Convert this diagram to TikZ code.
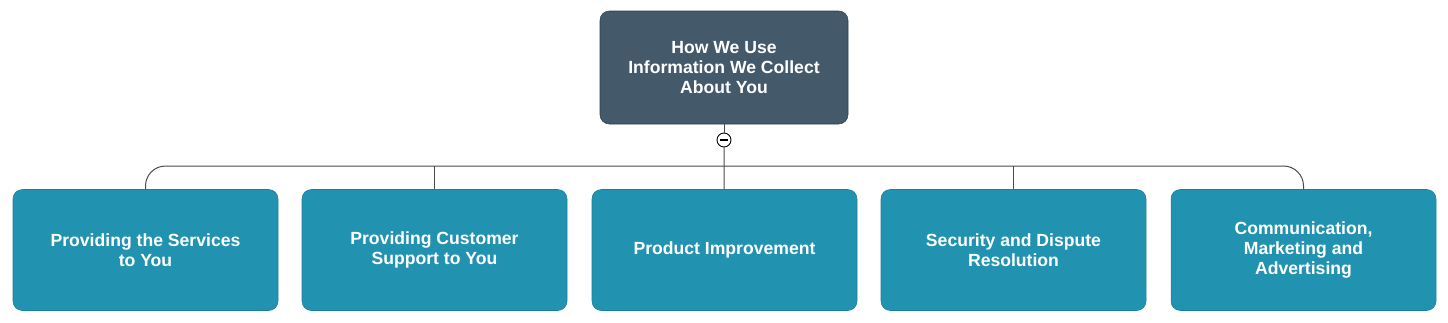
\documentclass[tikz,border=0pt]{standalone}
\usepackage{fontspec}
\setmainfont{Liberation Sans}
\usepackage{tikz}
\usetikzlibrary{positioning}

\definecolor{rootfill}{HTML}{44596A}
\definecolor{rootline}{HTML}{2F3E4A}
\definecolor{topicfill}{HTML}{2193B0}
\definecolor{topicline}{HTML}{1A7F9A}
\definecolor{linkgray}{HTML}{4A4A4A}

\begin{document}
\begin{tikzpicture}[
  x=0.75pt, y=-0.75pt,
  rootbox/.style={
    draw=rootline,
    fill=rootfill,
    rounded corners=7pt,
    align=center,
    text=white,
    font=\fontsize{13.2}{14.8}\selectfont\bfseries,
    minimum width=186pt,
    minimum height=84.75pt
  },
  topic/.style={
    draw=topicline,
    fill=topicfill,
    rounded corners=7pt,
    align=center,
    text=white,
    font=\fontsize{13.2}{14.8}\selectfont\bfseries,
    minimum width=198.75pt,
    minimum height=90.75pt
  },
  toggle/.style={
    circle,
    draw=black,
    fill=white,
    line width=0.7pt,
    minimum size=10.5pt,
    inner sep=0pt
  },
  link/.style={draw=linkgray, line width=0.75pt}
]
\useasboundingbox (0,0) rectangle (1448,322);

\node[rootbox] (root) at (724,67.5) {How We Use\\Information We Collect\\About You};
\node[toggle] (tog) at (724,140) {};
\draw[line width=0.9pt] ([xshift=-3pt]tog.center) -- ([xshift=3pt]tog.center);

\node[topic] (services) at (145.5,250) {Providing the Services\\to You};
\node[topic] (support) at (434.5,250) {Providing Customer\\Support to You};
\node[topic] (product) at (724.5,250) {Product Improvement};
\node[topic] (security) at (1013.5,250) {Security and Dispute\\Resolution};
\node[topic] (marketing) at (1303.5,250) {Communication,\\Marketing and\\Advertising};

\coordinate (bus) at (724,166);

\draw[link] (root) -- (tog);
\draw[link] (tog) -- (product);
\draw[link, rounded corners=15pt] (services.north) |- (bus) -| (marketing.north);
\draw[link] (support.north) -- (support.north |- bus);
\draw[link] (security.north) -- (security.north |- bus);
\end{tikzpicture}
\end{document}
